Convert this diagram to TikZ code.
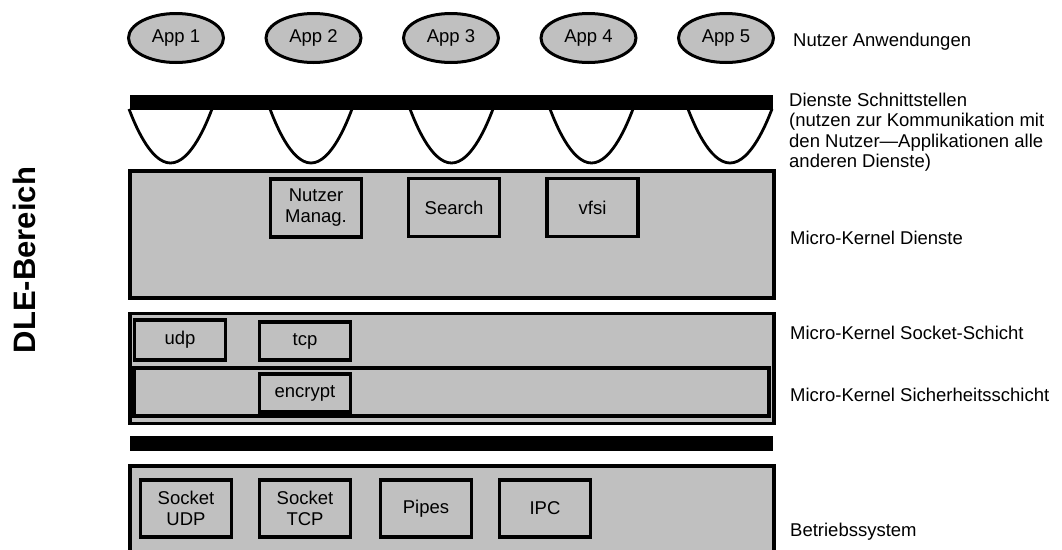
\documentclass[tikz,border=0pt]{standalone}
\usepackage{fontspec}
\setmainfont{Liberation Sans}
\usetikzlibrary{shapes.geometric}
\definecolor{boxgray}{RGB}{192,192,192}
\begin{document}
\begin{tikzpicture}[x=1pt,y=-1pt,
  lw/.style={line width=3.2pt},
  txt/.style={font=\fontsize{18.5}{21}\selectfont},
  app/.style={ellipse, draw, line width=3pt, fill=boxgray, minimum width=95pt, minimum height=49pt, inner sep=0pt, txt},
  layerbox/.style={rectangle, draw, lw, fill=boxgray, inner sep=0pt},
  modbox/.style={rectangle, draw, lw, fill=boxgray, inner sep=0pt, minimum width=91pt, align=center, txt},
  bar/.style={rectangle, fill=black, inner sep=0pt, minimum width=643pt, minimum height=15pt},
  cup/.style={line width=2.8pt},
  lbl/.style={anchor=west, align=left, inner sep=0pt, txt}
]
\useasboundingbox (0,0) rectangle (1062,549);
\clip (0,0) rectangle (1062,549);

% applications
\node[app] (app1) at (176,38) {App 1};
\node[app] (app2) at (313.5,38) {App 2};
\node[app] (app3) at (451,38) {App 3};
\node[app] (app4) at (588.5,38) {App 4};
\node[app] (app5) at (726,38) {App 5};

% service interfaces
\draw[cup] (129,109) parabola bend (170.5,163) (212,109);
\draw[cup] (270,109) parabola bend (311,163) (352,109);
\draw[cup] (410,109) parabola bend (451.5,163) (493,109);
\draw[cup] (550,109) parabola bend (591.5,163) (633,109);
\draw[cup] (688,109) parabola bend (730,163) (772,109);
\node[bar] (bar1) at (451.5,102.5) {};

% micro-kernel services
\node[layerbox, minimum width=644pt, minimum height=127pt] (mkd) at (452,234.5) {};
\node[modbox, minimum height=58pt] (nutzer) at (316,208) {Nutzer\\Manag.};
\node[modbox, minimum height=58pt] (search) at (454,207.5) {Search};
\node[modbox, minimum height=58pt] (vfsi) at (592.5,207.5) {vfsi};

% socket layer and security layer
\node[layerbox, minimum width=644pt, minimum height=110pt] (sock) at (452,368.5) {};
\node[layerbox, minimum width=635pt, minimum height=48pt] (sec) at (451.5,392) {};
\node[modbox, minimum height=40pt] (udp) at (180,340) {udp};
\node[modbox, minimum height=38pt] (tcp) at (305,341) {tcp};
\node[modbox, minimum height=38pt] (encrypt) at (305,393) {encrypt};

\node[bar] (bar2) at (451.5,443.5) {};

% operating system
\node[layerbox, minimum width=644pt, minimum height=110pt] (os) at (452,521) {};
\node[modbox, minimum height=57pt] (sudp) at (186,508.5) {Socket\\UDP};
\node[modbox, minimum height=57pt] (stcp) at (305,508.5) {Socket\\TCP};
\node[modbox, minimum height=57pt] (pipes) at (426,508.5) {Pipes};
\node[modbox, minimum height=57pt] (ipc) at (545,508.5) {IPC};

% labels
\node[lbl] (l1) at (793,42) {Nutzer Anwendungen};
\node[lbl, font=\fontsize{18.5}{20.5}\selectfont] (l2) at (789,132) {Dienste Schnittstellen\\(nutzen zur Kommunikation mit\\den Nutzer—Applikationen alle\\anderen Dienste)};
\node[lbl] (l3) at (790,238) {Micro-Kernel Dienste};
\node[lbl] (l4) at (790,333) {Micro-Kernel Socket-Schicht};
\node[lbl] (l5) at (790,395) {Micro-Kernel Sicherheitsschicht};
\node[lbl] (l6) at (790,532) {Betriebssystem};

\node[rotate=90, font=\fontsize{31}{36}\bfseries\selectfont, inner sep=0pt] (dle) at (24,260) {DLE-Bereich};
\end{tikzpicture}
\end{document}
